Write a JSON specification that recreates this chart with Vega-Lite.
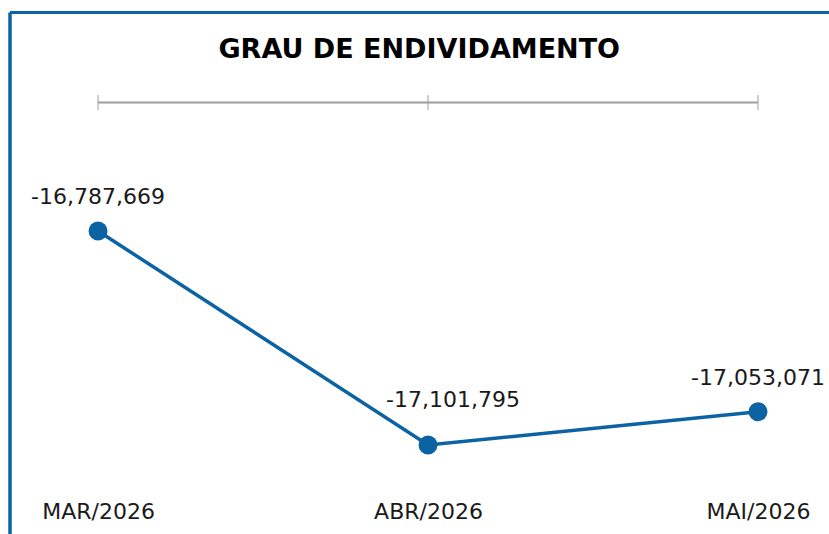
{
  "$schema": "https://vega.github.io/schema/vega-lite/v6.json",
  "width": 819.5,
  "height": 522,
  "autosize": {"type": "none"},
  "padding": {"left": 9.5, "top": 12, "right": 0, "bottom": 0},
  "background": "white",
  "config": {
    "view": {"stroke": null},
    "font": "DejaVu Sans",
    "locale": {"number": {"decimal": ".", "thousands": ",", "grouping": [3], "currency": ["$", ""], "minus": "-"}}
  },
  "title": {
    "text": "GRAU DE ENDIVIDAMENTO",
    "fontSize": 27,
    "fontWeight": "bold",
    "color": "#000000",
    "anchor": "middle",
    "orient": "top",
    "baseline": "alphabetic",
    "offset": -73
  },
  "data": {
    "values": [
      {"mes": "MAR/2026", "valor": -16787669},
      {"mes": "ABR/2026", "valor": -17101795},
      {"mes": "MAI/2026", "valor": -17053071}
    ]
  },
  "resolve": {"axis": {"x": "independent"}},
  "layer": [
    {
      "mark": {"type": "line", "color": "#0b63a3", "strokeWidth": 3.5},
      "encoding": {
        "x": {
          "field": "mes", "type": "ordinal", "sort": null,
          "scale": {"type": "point", "domain": ["MAR/2026", "ABR/2026", "MAI/2026"], "padding": 0.2417, "align": 0.555},
          "axis": {"orient": "top", "domain": true, "domainColor": "#0b63a3", "domainWidth": 3, "ticks": false, "labels": false, "title": null, "grid": false}
        },
        "y": {
          "field": "valor", "type": "quantitative",
          "scale": {"domain": [-17232564, -16466111], "zero": false, "nice": false},
          "axis": {"orient": "left", "domain": true, "domainColor": "#0b63a3", "domainWidth": 3.5, "ticks": false, "labels": false, "grid": false, "title": null}
        }
      }
    },
    {
      "mark": {"type": "rule", "color": "#a3a3a3", "strokeWidth": 1.5},
      "encoding": {
        "x": {"datum": "MAR/2026", "type": "ordinal", "axis": null},
        "x2": {"datum": "MAI/2026"},
        "y": {"datum": -16599000, "type": "quantitative", "axis": {"orient": "left", "domain": true, "domainColor": "#0b63a3", "domainWidth": 3.5, "ticks": false, "labels": false, "grid": false, "title": null}}
      }
    },
    {
      "mark": {"type": "tick", "orient": "vertical", "color": "#a3a3a3", "thickness": 1.5, "size": 15},
      "encoding": {
        "x": {"field": "mes", "type": "ordinal", "sort": null, "axis": null},
        "y": {"datum": -16599000, "type": "quantitative", "axis": {"orient": "left", "domain": true, "domainColor": "#0b63a3", "domainWidth": 3.5, "ticks": false, "labels": false, "grid": false, "title": null}}
      }
    },
    {
      "mark": {"type": "point", "filled": true, "size": 360, "color": "#0b63a3", "opacity": 1},
      "encoding": {
        "x": {
          "field": "mes", "type": "ordinal", "sort": null,
          "axis": {"orient": "bottom", "domain": false, "ticks": false, "tickSize": 0, "labelPadding": 0, "labelBaseline": "alphabetic", "labelFontSize": 22, "labelColor": "#1a1a1a", "labelAngle": 0, "offset": -16, "title": null, "grid": false, "labelFont": "DejaVu Sans"}
        },
        "y": {"field": "valor", "type": "quantitative", "axis": {"orient": "left", "domain": true, "domainColor": "#0b63a3", "domainWidth": 3.5, "ticks": false, "labels": false, "grid": false, "title": null}}
      }
    },
    {
      "transform": [{"filter": "datum.mes !== 'ABR/2026'"}],
      "mark": {"type": "text", "dy": -27, "fontSize": 22, "color": "#1a1a1a", "baseline": "alphabetic", "align": "center"},
      "encoding": {
        "x": {"field": "mes", "type": "ordinal", "sort": null, "axis": null},
        "y": {"field": "valor", "type": "quantitative", "axis": {"orient": "left", "domain": true, "domainColor": "#0b63a3", "domainWidth": 3.5, "ticks": false, "labels": false, "grid": false, "title": null}},
        "text": {"field": "valor", "type": "quantitative", "format": ",d"}
      }
    },
    {
      "transform": [{"filter": "datum.mes === 'ABR/2026'"}],
      "mark": {"type": "text", "dy": -38, "dx": 25, "fontSize": 22, "color": "#1a1a1a", "baseline": "alphabetic", "align": "center"},
      "encoding": {
        "x": {"field": "mes", "type": "ordinal", "sort": null, "axis": null},
        "y": {"field": "valor", "type": "quantitative", "axis": {"orient": "left", "domain": true, "domainColor": "#0b63a3", "domainWidth": 3.5, "ticks": false, "labels": false, "grid": false, "title": null}},
        "text": {"field": "valor", "type": "quantitative", "format": ",d"}
      }
    }
  ]
}
